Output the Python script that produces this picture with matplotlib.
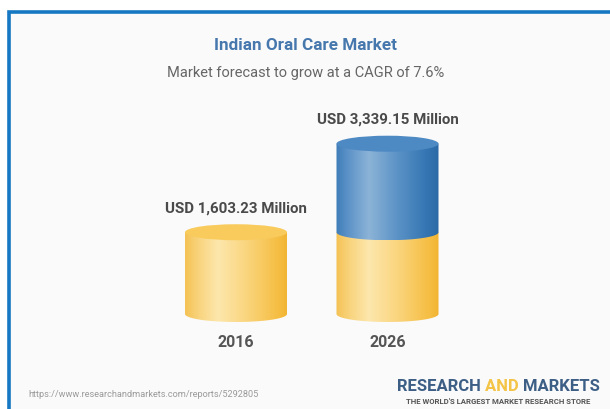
import numpy as np
import matplotlib
matplotlib.use("Agg")
import matplotlib.pyplot as plt
from matplotlib.patches import Ellipse, Rectangle, Polygon
from matplotlib.colors import LinearSegmentedColormap

plt.rcParams['font.family'] = ['Roboto', 'DejaVu Sans']

# ---- data ----
years = ['2016', '2026']
totals = [1603.23, 3339.15]
base_values = [1603.23, 1603.23]          # yellow segment
labels = ['USD 1,603.23 Million', 'USD 3,339.15 Million']
title = 'Indian Oral Care Market'
subtitle = 'Market forecast to grow at a CAGR of 7.6%'
source = 'https://www.researchandmarkets.com/reports/5292805'

# ---- figure ----
W, H = 610, 410
fig = plt.figure(figsize=(W / 100, H / 100), dpi=100)
fig.patch.set_facecolor('white')
ax = fig.add_axes([0, 0, 1, 1])
ax.set_axis_off()

px_per_cat = 151.5
x0_px = 236
ax.set_xlim(-x0_px / px_per_cat, (W - x0_px) / px_per_cat)
px_per_val = 0.051
base_px = 315
ax.set_ylim((base_px - H) / px_per_val, base_px / px_per_val)

def px2x(p):
    return (p - x0_px) / px_per_cat

def py2y(p):
    return (base_px - p) / px_per_val

# background panel & border
ax.add_patch(Rectangle((px2x(9), py2y(H + 5)), (W + 5 - 9) / px_per_cat,
                       (H + 5 - 13) / px_per_val, facecolor='#fafafa',
                       edgecolor='#1677c2', linewidth=2.6, zorder=0))

cyl_w = 102 / px_per_cat
eh = 8 / px_per_val  # ellipse half-height in data units

yellow_cmap = LinearSegmentedColormap.from_list(
    'y', [(0, '#f4c255'), (0.12, '#f8d27a'), (0.32, '#fde7ad'),
          (0.6, '#fad57e'), (0.88, '#f6c048'), (1, '#f2b431')])
blue_cmap = LinearSegmentedColormap.from_list(
    'b', [(0, '#3f7db9'), (0.12, '#5d93c8'), (0.32, '#8cb3d7'),
          (0.6, '#5b92c6'), (0.88, '#3475b3'), (1, '#2a69a6')])

def body(xc, y0, y1, cmap, z):
    xl, xr = xc - cyl_w / 2, xc + cyl_w / 2
    t = np.linspace(np.pi, 2 * np.pi, 60)
    bottom = np.column_stack([xc + cyl_w / 2 * np.cos(t), y0 + eh * np.sin(t)])
    pts = np.vstack([bottom, [[xr, y1], [xl, y1]]])
    poly = Polygon(pts, closed=True, facecolor='none', edgecolor='none')
    ax.add_patch(poly)
    grad = np.linspace(0, 1, 256).reshape(1, -1)
    im = ax.imshow(grad, cmap=cmap, aspect='auto',
                   extent=(xl, xr, y0 - eh, y1), zorder=z, interpolation='bilinear')
    im.set_clip_path(poly)

def top(xc, y, color, z):
    ax.add_patch(Ellipse((xc, y), cyl_w, 2 * eh, facecolor=color,
                         edgecolor='none', zorder=z))

for i, (tot, b) in enumerate(zip(totals, base_values)):
    body(i, 0, b, yellow_cmap, 2)
    if tot > b:
        body(i, b, tot, blue_cmap, 4)
        top(i, tot, '#4d89c3', 5)
    else:
        top(i, b, '#f8cb5c', 3)

# value labels
for i, (tot, lab) in enumerate(zip(totals, labels)):
    ax.text(i, tot + eh + 13 / px_per_val, lab, ha='center', va='baseline',
            fontsize=10.8, fontweight='bold', color='#4a4a4a', zorder=6)

# year labels
for i, yr in enumerate(years):
    ax.text(i, py2y(343), yr, ha='center', va='center', fontsize=11.5,
            fontweight='bold', color='#555555')

# title / subtitle
fig.text(306 / W, 1 - 45 / H, title, ha='center', va='center', fontsize=12.3,
         fontweight='bold', color='#4677ad')
fig.text(306 / W, 1 - 73 / H, subtitle, ha='center', va='center', fontsize=10.5,
         color='#666666')

# footer
fig.text(28 / W, 1 - 395 / H, source, ha='left', va='center', fontsize=6.6,
         color='#9a9a9a')
r1 = fig.text(397 / W, 1 - 387 / H, 'RESEARCH ', ha='left', va='center',
              fontsize=12, fontweight='bold', color='#3d5f86')
fig.canvas.draw()
bb = r1.get_window_extent()
r2 = fig.text(bb.x1 / W, 1 - 387 / H, 'AND ', ha='left', va='center',
              fontsize=12, fontweight='bold', color='#f4c446')
fig.canvas.draw()
bb = r2.get_window_extent()
fig.text(bb.x1 / W, 1 - 387 / H, 'MARKETS', ha='left', va='center',
         fontsize=12, fontweight='bold', color='#3d5f86')
fig.text(498 / W, 1 - 402 / H, "THE WORLD'S LARGEST MARKET RESEARCH STORE",
         ha='center', va='center', fontsize=5.6, fontweight='bold', color='#555555')

fig.savefig('out.png', dpi=100)
